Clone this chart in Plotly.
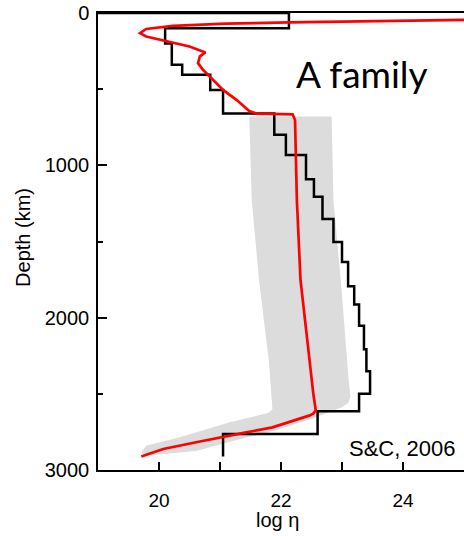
import plotly.graph_objects as go

# ---- data ----
# black step profile (log eta, depth km)
step_logeta = [19.0, 22.13, 22.13, 20.10, 20.10, 20.21, 20.21, 20.38, 20.38, 20.84, 20.84,
               21.05, 21.05, 21.89, 21.89, 22.08, 22.08, 22.41, 22.41, 22.54, 22.54,
               22.68, 22.68, 22.86, 22.86, 23.00, 23.00, 23.10, 23.10, 23.20, 23.20,
               23.28, 23.28, 23.36, 23.36, 23.40, 23.40, 23.46, 23.46, 23.28, 23.28,
               22.60, 22.60, 21.05, 21.05]
step_depth = [0, 0, 100, 100, 200, 200, 340, 340, 405, 405, 505,
              505, 660, 660, 800, 800, 932, 932, 1092, 1092, 1206,
              1206, 1353, 1353, 1503, 1503, 1634, 1634, 1794, 1794, 1914,
              1914, 2053, 2053, 2208, 2208, 2352, 2352, 2500, 2500, 2614,
              2614, 2763, 2763, 2912]

# red profile
red_logeta = [25.3, 24.0, 23.0, 22.13, 21.1, 20.23, 19.79, 19.69, 19.79, 20.07, 20.28,
              20.5, 20.76, 20.67, 20.64, 20.72, 20.86, 21.05, 21.27, 21.48, 21.6,
              22.19, 22.23, 22.25, 22.26, 22.32, 22.47, 22.5, 22.53, 22.57, 22.53,
              22.46, 22.13, 21.86, 21.43, 21.05, 20.61, 20.07, 19.71]
red_depth = [44, 50, 55, 62, 70, 84, 105, 132, 154, 180, 197,
             220, 259, 285, 329, 373, 428, 505, 570, 643, 660,
             665, 702, 1097, 1228, 1754, 2281, 2413, 2500, 2609, 2630,
             2643, 2687, 2720, 2753, 2785, 2818, 2862, 2912]

# grey uncertainty band (polygon)
band_logeta = [21.48, 22.83, 22.86, 22.98, 23.11, 23.14, 23.10, 23.00, 22.57, 21.86,
               21.16, 20.61, 19.77, 19.71, 19.79, 20.34, 21.16, 21.80, 21.86, 21.84,
               21.80, 21.64, 21.52, 21.48]
band_depth = [680, 680, 1230, 1754, 2413, 2520, 2560, 2588, 2654, 2746,
              2815, 2875, 2907, 2884, 2840, 2785, 2687, 2625, 2600, 2511,
              2281, 1754, 1228, 680]

x_ticks = [20, 22, 24]
y_ticks = [0, 1000, 2000, 3000]

fig = go.Figure()
fig.add_trace(go.Scatter(x=band_logeta, y=band_depth, mode="lines", fill="toself",
                         fillcolor="rgb(220,220,220)", line=dict(width=0),
                         hoverinfo="skip", showlegend=False))
fig.add_trace(go.Scatter(x=step_logeta, y=step_depth, mode="lines",
                         line=dict(color="black", width=2.5), showlegend=False))
fig.add_trace(go.Scatter(x=red_logeta, y=red_depth, mode="lines",
                         line=dict(color="#ff0000", width=2.7), showlegend=False))

xfont = dict(family="Liberation Sans, Arial, sans-serif", size=19, color="black")
yfont = dict(family="Liberation Sans, Arial, sans-serif", size=20, color="black")

fig.update_layout(
    width=464, height=536,
    margin=dict(l=98, r=0, t=13, b=66),
    paper_bgcolor="white", plot_bgcolor="white",
    xaxis=dict(range=[19, 25], tickvals=x_ticks, ticks="inside", ticklen=8, tickwidth=1.5,
               tickcolor="black", showline=True, linecolor="black", linewidth=1.5,
               mirror=True, showgrid=False, zeroline=False, tickfont=xfont,
               ticklabelstandoff=12,
               minor=dict(dtick=1, ticks="inside", ticklen=8, tickwidth=1.5, tickcolor="black")),
    yaxis=dict(range=[3000, 0], tickvals=y_ticks, ticks="inside", ticklen=9, tickwidth=1.5,
               tickcolor="black", showline=True, linecolor="black", linewidth=1.5,
               showgrid=False, zeroline=False, tickfont=yfont, ticklabelstandoff=3,
               minor=dict(dtick=500, ticks="inside", ticklen=5, tickwidth=1.5, tickcolor="black")),
    annotations=[
        dict(text="Depth (km)", xref="paper", yref="paper", x=-0.205, y=0.51,
             textangle=-90, showarrow=False, xanchor="center", yanchor="middle",
             font=dict(family="Liberation Sans, Arial, sans-serif", size=20, color="black")),
        dict(text="log η", xref="paper", yref="paper", x=0.49, y=-0.109,
             showarrow=False, xanchor="center", yanchor="middle",
             font=dict(family="Liberation Sans, Arial, sans-serif", size=20, color="black")),
        dict(text="A family", xref="paper", yref="paper", x=(294 - 98) / 366, y=(470 - 73) / 457,
             showarrow=False, xanchor="left", yanchor="middle",
             font=dict(family="Lato, sans-serif", size=37, color="black")),
        dict(text="S&C, 2006", xref="paper", yref="paper", x=(457 - 98) / 366, y=(470 - 448) / 457,
             showarrow=False, xanchor="right", yanchor="middle",
             font=dict(family="Liberation Sans, Arial, sans-serif", size=22, color="black")),
    ],
)

fig.write_html("out.html")
